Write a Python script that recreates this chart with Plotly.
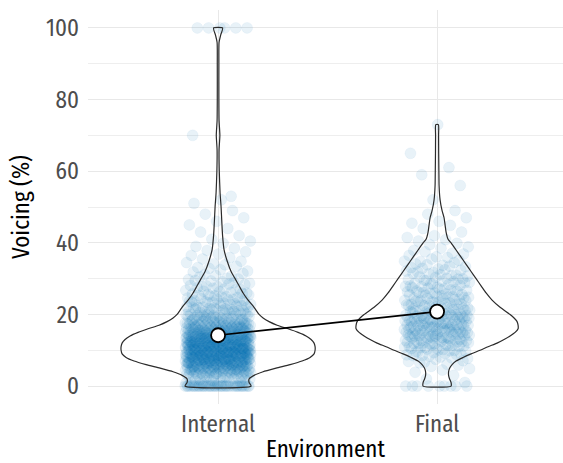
import plotly.graph_objects as go

# ---------------- data ----------------
categories = ["Internal", "Final"]
cat_pos = [1, 2]

# mean voicing (%) per environment
means = [14.2, 20.8]

# violin outline: value (%) -> half width (pixels at 219 px per category unit)
internal_violin_v = [0, 1, 2, 3, 4, 5, 6, 7, 8, 9, 10, 11, 12, 13, 14, 15, 16, 17, 18, 19, 20,
                     22, 24, 26, 28, 30, 32, 35, 38, 42, 46, 50, 54, 60, 66, 70, 74, 80, 90, 96, 98, 100]
internal_violin_hw = [33, 31, 31, 36, 45, 58, 72, 84, 92, 96, 97, 97, 96, 93, 88, 80, 70, 59, 51, 45, 41,
                      36, 30, 25, 21, 17, 13, 9, 6, 4.5, 3.7, 3, 2, 1.2, 1, 1.8, 1, 0.8, 0.8, 1.0, 2.6, 4.5]

final_violin_v = [0, 1, 2, 3, 4, 5, 6, 7, 8, 9, 10, 11, 12, 13, 14, 15, 16, 17, 18, 19, 20,
                  22, 24, 26, 28, 30, 32, 34, 36, 38, 40, 41, 43, 45, 47, 49, 52, 56, 60, 65, 70, 73]
final_violin_hw = [14, 14, 12.5, 11.5, 11.5, 12.5, 15, 19, 26, 34, 43, 51, 60, 67, 73, 78, 81, 81, 80, 77, 73,
                   63, 55, 49, 44, 39, 34, 29, 24, 19, 14, 11, 9, 8, 7, 5, 3, 2, 1.8, 1.6, 1.5, 1.3]

# individual observations: exact values, and counts per 1%-wide bin
internal_exact = [0] * 40 + [53, 70] + [100] * 6
internal_bins = list(range(1, 53))
internal_counts = [7, 10, 16, 23, 30, 36, 40, 43, 44, 44, 43, 42, 40, 37, 32, 27, 23, 19, 16, 14,
                   13, 11, 10, 9, 8, 7, 6, 6, 5, 4, 4, 3, 3, 3, 2, 2, 2, 2, 1, 2,
                   1, 1, 1, 1, 1, 1, 1, 1, 1, 0, 1, 1]

final_exact = [0] * 9 + [52, 56, 59, 61, 65, 73]
final_bins = list(range(1, 50))
final_counts = [1, 1, 1, 2, 2, 3, 4, 5, 7, 8, 10, 11, 13, 14, 14, 15, 15, 14, 14, 13,
                11, 10, 10, 9, 9, 8, 8, 7, 7, 7, 6, 5, 5, 4, 4, 3, 3, 2, 2, 2,
                2, 1, 1, 1, 2, 1, 1, 1, 1]

y_ticks = [0, 20, 40, 60, 80, 100]

# ---------------- helpers ----------------
PX_PER_UNIT = 219.0
JITTER = 0.15


def expand(exact, bins, counts):
    ys = list(exact)
    for b, n in zip(bins, counts):
        for k in range(n):
            if n == 1:
                ys.append(b)
            else:
                off = ((k * 0.6180339887 + 0.37) % 1.0) - 0.5
                ys.append(b + off)
    return ys


def jitter_x(center, n, seed):
    return [center + (((i * 0.41421356237 + seed) % 1.0) * 2 - 1) * JITTER for i in range(n)]


fig = go.Figure()

groups = [
    (internal_exact, internal_bins, internal_counts, internal_violin_v, internal_violin_hw, 0.13),
    (final_exact, final_bins, final_counts, final_violin_v, final_violin_hw, 0.71),
]

for (exact, bins, counts, vv, hw, seed), c in zip(groups, cat_pos):
    ys = expand(exact, bins, counts)
    xs = jitter_x(c, len(ys), seed)
    fig.add_trace(go.Scatter(
        x=xs, y=ys, mode="markers",
        marker=dict(size=11, color="rgba(0,114,178,0.09)",
                    line=dict(width=0.8, color="rgba(0,114,178,0.06)")),
        hoverinfo="skip", showlegend=False))

for (exact, bins, counts, vv, hw, seed), c in zip(groups, cat_pos):
    right = [c + h / PX_PER_UNIT for h in hw]
    left = [c - h / PX_PER_UNIT for h in hw]
    px = right + left[::-1] + [right[0]]
    py = vv + vv[::-1] + [vv[0]]
    fig.add_trace(go.Scatter(
        x=px, y=py, mode="lines",
        line=dict(color="#2b2b2b", width=1.2, shape="spline", smoothing=0.6),
        hoverinfo="skip", showlegend=False))

fig.add_trace(go.Scatter(
    x=cat_pos, y=means, mode="lines+markers",
    line=dict(color="black", width=1.6),
    marker=dict(size=14, color="white", line=dict(color="black", width=1.8)),
    showlegend=False))

FONT = "Fira Sans Condensed, Liberation Sans Narrow, Roboto Condensed, DejaVu Sans Condensed, Open Sans, sans-serif"

fig.update_layout(
    width=563, height=463,
    margin=dict(l=88, r=0, t=10, b=59),
    plot_bgcolor="white", paper_bgcolor="white",
    font=dict(family=FONT, size=23, color="#4d4d4d"),
    xaxis=dict(
        range=[0.406, 2.575], tickvals=cat_pos, ticktext=categories,
        showgrid=True, gridcolor="#e8e8e8", gridwidth=1.4, zeroline=False,
        showline=False, ticks="", ticklabelstandoff=4,
        title=dict(text="Environment", font=dict(color="black", size=23, family=FONT), standoff=9),
    ),
    yaxis=dict(
        range=[-5, 105], tickvals=y_ticks,
        showgrid=True, gridcolor="#e8e8e8", gridwidth=1.4, zeroline=False,
        showline=False, ticks="", ticklabelstandoff=8,
        minor=dict(dtick=10, showgrid=True, gridcolor="#eeeeee", gridwidth=1.0),
        title=dict(text="Voicing (%)", font=dict(color="black", size=23, family=FONT), standoff=10),
    ),
)

fig.write_html("out.html")
